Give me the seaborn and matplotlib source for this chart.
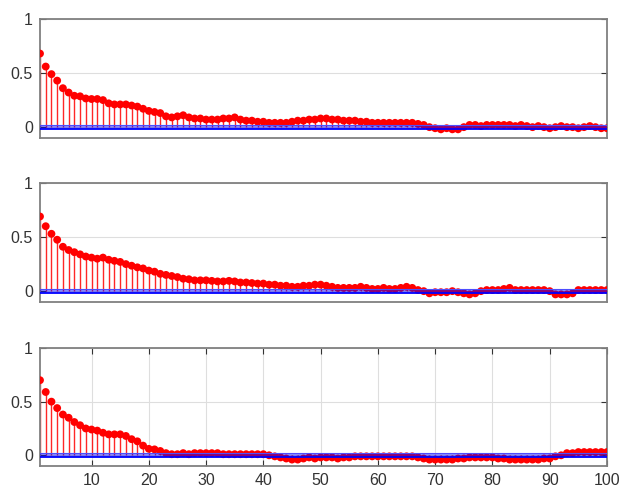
import numpy as np
import pandas as pd
import seaborn as sns
import matplotlib
matplotlib.use("Agg")
import matplotlib.pyplot as plt

lags = list(range(1, 101))

acf_1 = [0.68, 0.56, 0.49, 0.43, 0.36, 0.32, 0.29, 0.285, 0.265, 0.26,
         0.26, 0.25, 0.22, 0.21, 0.21, 0.21, 0.20, 0.19, 0.17, 0.15,
         0.14, 0.13, 0.10, 0.09, 0.10, 0.11, 0.09, 0.08, 0.08, 0.07,
         0.07, 0.07, 0.08, 0.08, 0.09, 0.07, 0.06, 0.06, 0.05, 0.05,
         0.04, 0.04, 0.04, 0.04, 0.05, 0.06, 0.06, 0.07, 0.07, 0.08,
         0.08, 0.07, 0.07, 0.06, 0.06, 0.06, 0.05, 0.05, 0.04, 0.04,
         0.04, 0.04, 0.04, 0.04, 0.04, 0.04, 0.03, 0.02, 0.00, -0.01,
         -0.02, -0.01, -0.02, -0.02, 0.00, 0.02, 0.02, 0.01, 0.02, 0.02,
         0.02, 0.02, 0.02, 0.01, 0.02, 0.01, 0.00, 0.01, 0.00, -0.01,
         0.00, 0.01, 0.00, 0.00, -0.01, 0.00, 0.01, 0.00, -0.01, -0.01]

acf_2 = [0.69, 0.60, 0.53, 0.475, 0.41, 0.38, 0.36, 0.34, 0.32, 0.31,
         0.30, 0.31, 0.29, 0.28, 0.27, 0.25, 0.235, 0.22, 0.21, 0.19,
         0.18, 0.16, 0.15, 0.14, 0.13, 0.115, 0.11, 0.10, 0.10, 0.10,
         0.095, 0.09, 0.09, 0.095, 0.09, 0.08, 0.08, 0.075, 0.07, 0.07,
         0.06, 0.06, 0.05, 0.05, 0.04, 0.04, 0.05, 0.05, 0.06, 0.06,
         0.05, 0.04, 0.03, 0.03, 0.03, 0.03, 0.04, 0.03, 0.02, 0.02,
         0.03, 0.02, 0.02, 0.03, 0.04, 0.03, 0.01, 0.00, -0.02, -0.01,
         -0.01, -0.01, 0.00, -0.01, -0.02, -0.03, -0.02, 0.00, 0.01, 0.01,
         0.01, 0.02, 0.03, 0.01, 0.01, 0.01, 0.01, 0.01, 0.01, 0.00,
         -0.03, -0.03, -0.03, -0.02, 0.01, 0.01, 0.01, 0.01, 0.01, 0.01]

acf_3 = [0.70, 0.59, 0.50, 0.44, 0.38, 0.35, 0.31, 0.28, 0.25, 0.24,
         0.23, 0.21, 0.195, 0.195, 0.195, 0.18, 0.15, 0.13, 0.09, 0.06,
         0.055, 0.04, 0.02, 0.01, 0.01, 0.02, 0.01, 0.02, 0.02, 0.02,
         0.02, 0.02, 0.01, 0.01, 0.01, 0.01, 0.01, 0.01, 0.01, 0.01,
         0.00, -0.01, -0.02, -0.03, -0.04, -0.04, -0.03, -0.02, -0.03, -0.02,
         -0.02, -0.02, -0.03, -0.02, -0.02, -0.01, -0.01, -0.01, -0.01, -0.01,
         -0.01, -0.01, -0.01, -0.01, -0.01, -0.01, -0.02, -0.03, -0.04, -0.04,
         -0.04, -0.04, -0.04, -0.03, -0.03, -0.02, -0.02, -0.02, -0.02, -0.02,
         -0.03, -0.03, -0.04, -0.04, -0.04, -0.04, -0.04, -0.04, -0.03, -0.03,
         -0.01, 0.00, 0.02, 0.02, 0.03, 0.03, 0.03, 0.03, 0.03, 0.03]

series = [acf_1, acf_2, acf_3]
conf_upper = 0.02
conf_lower = -0.015
x_ticks = [10, 20, 30, 40, 50, 60, 70, 80, 90, 100]
y_ticks = [0, 0.5, 1]
y_ticklabels = ["0", "0.5", "1"]

sns.set_theme(style="white")
plt.rcParams["font.family"] = ["Liberation Sans", "DejaVu Sans"]

fig = plt.figure(figsize=(6.19, 4.91), dpi=100)
positions = [
    [0.0646, 0.719, 0.916, 0.2424],
    [0.0646, 0.385, 0.916, 0.2424],
    [0.0646, 0.0509, 0.916, 0.2403],
]
frame_col = "#808080"
text_col = "#333333"

for i, (vals, pos) in enumerate(zip(series, positions)):
    ax = fig.add_axes(pos)
    df = pd.DataFrame({"lag": lags, "acf": vals})
    ax.set_axisbelow(True)
    ax.grid(True, axis="y", color="#dedede", linewidth=0.8)
    if i == 2:
        ax.grid(True, axis="x", color="#dedede", linewidth=0.8)
    ax.vlines(df["lag"], 0, df["acf"], color="red", linewidth=1.0, alpha=0.85, zorder=2)
    sns.scatterplot(data=df, x="lag", y="acf", ax=ax, color="red", s=32,
                    edgecolor="none", linewidth=0, zorder=3, legend=False)
    ax.fill_between([1, 100], conf_lower, conf_upper, color="blue", alpha=0.45,
                    linewidth=0, zorder=4)
    ax.axhline(conf_upper, color="#4d4dff", linewidth=0.8, zorder=5)
    ax.axhline(conf_lower, color="blue", linewidth=1.3, zorder=5)

    ax.set_xlim(1, 100)
    ax.set_ylim(-0.1, 1)
    ax.set_xlabel("")
    ax.set_ylabel("")
    ax.set_yticks(y_ticks)
    ax.set_yticklabels(y_ticklabels)
    if i == 2:
        ax.set_xticks(x_ticks)
        ax.set_xticklabels([str(t) for t in x_ticks])
    else:
        ax.set_xticks([])
    ax.tick_params(axis="both", direction="in", length=4, width=0.8,
                   color="#333333", labelsize=11.5, labelcolor=text_col,
                   top=(i == 2), right=True, bottom=(i == 2), left=True, pad=5)
    for s in ax.spines.values():
        s.set_color(frame_col)
        s.set_linewidth(1.3)
        s.set_visible(True)

fig.savefig("out.png", dpi=100, facecolor="white")
